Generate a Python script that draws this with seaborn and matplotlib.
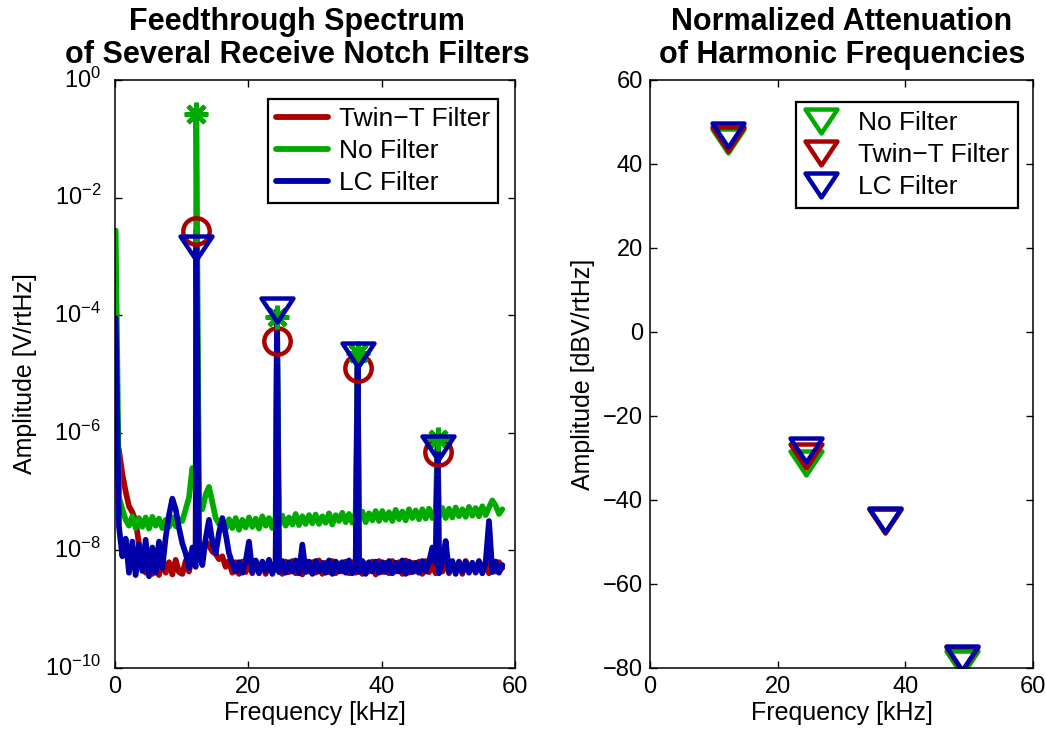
import numpy as np
import pandas as pd
import matplotlib
matplotlib.use("Agg")
import matplotlib.pyplot as plt
import seaborn as sns
from matplotlib.path import Path
from matplotlib.markers import MarkerStyle
from matplotlib.lines import Line2D
from matplotlib.ticker import NullLocator, FixedLocator

# ---------------- data ----------------
# noise-floor samples of the spectra (log10 of V/rtHz), every 0.5 kHz from 0.1 kHz
green_floor_log = [
    -2.56, -7.10, -7.30, -7.48, -7.58, -7.42, -7.62, -7.45, -7.60, -7.44,
    -7.63, -7.43, -7.58, -7.46, -7.62, -7.48, -7.60, -7.44, -7.59, -7.47,
    -7.50, -7.30, -7.10, -6.60, -6.85, -7.15, -7.30, -7.05, -6.92, -7.18,
    -7.45, -7.55, -7.48, -7.64, -7.47, -7.62, -7.45, -7.65, -7.48, -7.61,
    -7.44, -7.60, -7.46, -7.63, -7.42, -7.58, -7.45, -7.62, -7.43, -7.57,
    -7.41, -7.58, -7.44, -7.56, -7.38, -7.57, -7.42, -7.55, -7.40, -7.54,
    -7.39, -7.55, -7.42, -7.53, -7.37, -7.56, -7.40, -7.50, -7.36, -7.52,
    -7.38, -7.53, -7.36, -7.50, -7.34, -7.52, -7.37, -7.49, -7.33, -7.50,
    -7.33, -7.48, -7.35, -7.50, -7.31, -7.47, -7.34, -7.49, -7.30, -7.45,
    -7.32, -7.47, -7.30, -7.46, -7.29, -7.45, -7.31, -7.43, -7.28, -7.45,
    -7.29, -7.44, -7.27, -7.42, -7.30, -7.43, -7.26, -7.41, -7.28, -7.42,
    -7.25, -7.40, -7.27, -7.15, -7.24, -7.38,
    -7.30,
]
red_floor_log = [
    -6.10, -6.30, -6.70, -7.00, -7.25, -7.35, -7.50, -7.90, -8.20, -8.38,
    -8.18, -8.40, -8.22, -8.42, -8.17, -8.38, -8.20, -8.41, -8.16, -8.37,
    -8.40, -8.18, -8.36, -8.10, -7.95, -8.12, -7.98, -7.85, -7.92, -8.02,
    -8.06, -8.15, -8.10, -8.28, -8.18, -8.38, -8.20, -8.40, -8.19, -8.37,
    -8.20, -8.39, -8.18, -8.36, -8.21, -8.40, -8.17, -8.38, -8.22, -8.35,
    -8.40, -8.19, -8.37, -8.18, -8.39, -8.21, -8.41, -8.18, -8.36, -8.20,
    -8.38, -8.17, -8.40, -8.21, -8.37, -8.18, -8.39, -8.22, -8.36, -8.19,
    -8.39, -8.20, -8.38, -8.17, -8.40, -8.22, -8.36, -8.19, -8.41, -8.18,
    -8.37, -8.21, -8.39, -8.18, -8.36, -8.20, -8.40, -8.17, -8.38, -8.21,
    -8.36, -8.19, -8.40, -8.18, -8.37, -8.22, -8.39, -8.20, -8.36, -8.18,
    -8.39, -8.21, -8.37, -8.19, -8.40, -8.18, -8.36, -8.22, -8.38, -8.20,
    -8.37, -8.19, -8.39, -8.21, -8.36, -8.20,
    -8.30,
]
blue_floor_log = [
    -4.05, -7.60, -8.10, -7.80, -8.38, -7.85, -8.42, -7.90, -8.35, -7.82,
    -8.44, -7.95, -8.38, -7.85, -8.30, -7.78, -7.40, -7.12, -7.30, -7.62,
    -7.88, -8.05, -8.30, -7.95, -8.28, -8.05, -8.25, -7.80, -7.48, -7.85,
    -8.05, -7.70, -7.45, -7.72, -8.05, -8.22, -8.36, -8.20, -8.38, -8.18,
    -7.85, -8.37, -8.17, -8.39, -8.19, -8.36, -8.16, -8.40, -8.20, -8.37,
    -8.18, -8.38, -8.20, -8.36, -8.17, -8.39, -7.90, -8.37, -8.19, -8.40,
    -8.18, -8.36, -8.21, -8.38, -8.17, -8.40, -8.19, -8.36, -8.20, -8.38,
    -8.17, -8.39, -8.21, -8.37, -8.18, -8.40, -8.20, -8.36, -8.19, -8.38,
    -8.20, -8.37, -8.18, -8.39, -8.21, -8.36, -8.17, -8.40, -8.19, -8.37,
    -8.21, -8.38, -8.18, -8.36, -8.20, -7.95, -8.22, -8.39, -8.19, -7.84,
    -8.37, -8.18, -8.40, -8.20, -8.36, -8.19, -8.38, -8.21, -8.37, -8.18,
    -8.39, -8.20, -7.50, -8.37, -8.19, -8.38,
    -8.25,
]
freq_start_khz = 0.1
freq_step_khz = 0.5

# harmonic peaks in the spectra (kHz, log10 V/rtHz)
spike_freqs = [12.2, 24.3, 36.4, 48.4]
green_spike_log = [-0.57, -4.03, -4.64, -6.10]
red_spike_log = [-2.56, -4.44, -4.90, -6.32]
blue_spike_log = [-2.86, -3.92, -4.68, -6.26]

# normalized attenuation of harmonics (dBV/rtHz)
harm_freqs = [12.2, 24.4, 36.8, 48.8]
no_filter_db = [45.4, -31.2, -45.0, -78.8]
twin_t_db = [46.0, -29.5, -44.9, -77.8]
lc_db = [46.9, -28.1, -44.8, -77.6]

series_names = ["Twin\u2212T Filter", "No Filter", "LC Filter"]
RED, GREEN, BLUE = "#AA0000", "#00AA00", "#0000AA"

# ---------------- style ----------------
sns.set_theme(style="ticks")
plt.rcParams["font.family"] = ["Liberation Sans", "DejaVu Sans"]
plt.rcParams["mathtext.fontset"] = "custom"
plt.rcParams["mathtext.rm"] = "Liberation Sans"
plt.rcParams["mathtext.it"] = "Liberation Sans"
plt.rcParams["axes.unicode_minus"] = True
plt.rcParams["text.color"] = "black"
plt.rcParams["axes.labelcolor"] = "black"
plt.rcParams["xtick.color"] = "black"
plt.rcParams["ytick.color"] = "black"

W, H = 1046, 736
fig = plt.figure(figsize=(W / 100, H / 100), dpi=100)
fig.patch.set_facecolor("white")

def px_axes(x0, y0, x1, y1):
    return fig.add_axes([x0 / W, 1 - y1 / H, (x1 - x0) / W, (y1 - y0) / H])

ax1 = px_axes(115, 80, 515, 668)
ax2 = px_axes(650, 80, 1033, 668)

tri_path = Path([(-1, 0.75), (1, 0.75), (0, -0.75), (-1, 0.75)],
                [Path.MOVETO, Path.LINETO, Path.LINETO, Path.CLOSEPOLY])
tri = MarkerStyle(tri_path, joinstyle="miter")
TRI_MS, MEW = 23, 3.2
LW = 4.1

# ---------------- left panel ----------------
n = len(green_floor_log)
grid = freq_start_khz + freq_step_khz * np.arange(n)
frames = []
for name, floor, spikes in [
    (series_names[0], red_floor_log, red_spike_log),
    (series_names[1], green_floor_log, green_spike_log),
    (series_names[2], blue_floor_log, blue_spike_log),
]:
    f = np.concatenate([grid, spike_freqs])
    a = 10.0 ** np.concatenate([np.asarray(floor), np.asarray(spikes)])
    frames.append(pd.DataFrame({"freq": f, "amp": a, "filter": name}))
spec = pd.concat(frames, ignore_index=True)

sns.lineplot(data=spec, x="freq", y="amp", hue="filter", hue_order=series_names,
             palette=[RED, GREEN, BLUE], estimator=None, linewidth=LW,
             legend=False, ax=ax1, solid_joinstyle="round")
ax1.set_yscale("log")

ax1.plot(spike_freqs, 10.0 ** np.array(red_spike_log), ls="none", marker="o",
         ms=19, mew=MEW, mfc="none", mec=RED, zorder=5)
ax1.plot(spike_freqs, 10.0 ** np.array(green_spike_log), ls="none", marker=(8, 2, 0),
         ms=17, mew=MEW, mec=GREEN, mfc=GREEN, zorder=6)
ax1.plot(spike_freqs, 10.0 ** np.array(blue_spike_log), ls="none", marker=tri,
         ms=TRI_MS, mew=MEW, mfc="none", mec=BLUE, zorder=7)

ax1.set_xlim(0, 60)
ax1.set_ylim(1e-10, 1e0)
ax1.xaxis.set_major_locator(FixedLocator([0, 20, 40, 60]))
ax1.yaxis.set_major_locator(FixedLocator([1e-10, 1e-8, 1e-6, 1e-4, 1e-2, 1e0]))
ax1.yaxis.set_minor_locator(NullLocator())
ax1.set_xlabel("Frequency [kHz]", fontsize=18, labelpad=2)
ax1.set_ylabel("Amplitude [V/rtHz]", fontsize=18, labelpad=6)

leg1 = ax1.legend(
    [Line2D([], [], color=c, lw=4.2) for c in (RED, GREEN, BLUE)], series_names,
    loc="upper right", bbox_to_anchor=(498 / W, 1 - 99 / H), bbox_transform=fig.transFigure,
    borderaxespad=0, fontsize=19, frameon=True, fancybox=False, framealpha=1,
    edgecolor="black", handlelength=2.0, handletextpad=0.4, labelspacing=0.3,
    borderpad=0.3)
leg1.get_frame().set_linewidth(1.6)

# ---------------- right panel ----------------
for vals, c, name in [(no_filter_db, GREEN, "No Filter"),
                      (twin_t_db, RED, series_names[0]),
                      (lc_db, BLUE, "LC Filter")]:
    ax2.plot(harm_freqs, vals, ls="none", marker=tri, ms=TRI_MS, mew=MEW,
             mfc="none", mec=c, label=name)

ax2.set_xlim(0, 60)
ax2.set_ylim(-80, 60)
ax2.xaxis.set_major_locator(FixedLocator([0, 20, 40, 60]))
ax2.yaxis.set_major_locator(FixedLocator(list(range(-80, 61, 20))))
ax2.set_xlabel("Frequency [kHz]", fontsize=18, labelpad=2)
ax2.set_ylabel("Amplitude [dBV/rtHz]", fontsize=18, labelpad=6)
leg2 = ax2.legend(
    loc="upper right", bbox_to_anchor=(1018 / W, 1 - 102 / H), bbox_transform=fig.transFigure,
    borderaxespad=0, fontsize=19, frameon=True, fancybox=False, framealpha=1,
    edgecolor="black", handletextpad=0.8, labelspacing=0.3, borderpad=0.35,
    markerscale=1.0, handlelength=1.2)
leg2.get_frame().set_linewidth(1.6)

for ax, pad in ((ax1, 10), (ax2, 5)):
    for s in ax.spines.values():
        s.set_linewidth(1.1)
        s.set_color("black")
        s.set_visible(True)
    ax.tick_params(axis="both", which="both", direction="in", length=5, width=1.0,
                   top=True, right=True, labelsize=17, colors="black")
    ax.tick_params(axis="y", pad=pad)
    ax.tick_params(axis="x", pad=6)
    ax.set_facecolor("white")

# log labels: centre the whole "10^n" block on its tick, as in the reference
for lbl in ax1.get_yticklabels():
    lbl.set_verticalalignment("center")

fig.text(297 / W, 1 - 7 / H, "Feedthrough Spectrum\nof Several Receive Notch Filters",
         ha="center", va="top", fontsize=22, fontweight="bold", linespacing=1.12)
fig.text(842 / W, 1 - 7 / H, "Normalized Attenuation\nof Harmonic Frequencies",
         ha="center", va="top", fontsize=22, fontweight="bold", linespacing=1.12)

fig.savefig("out.png", dpi=100, facecolor="white")
